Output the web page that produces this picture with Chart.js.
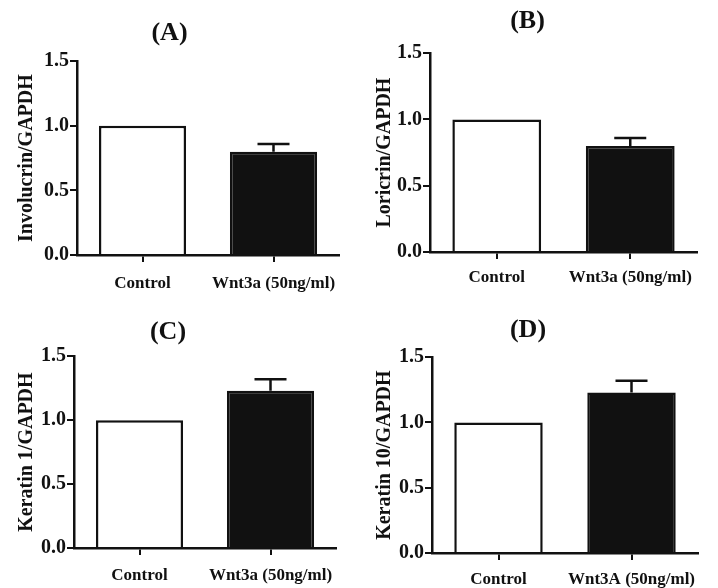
<!DOCTYPE html>
<html>
<head>
<meta charset="utf-8">
<script src="https://cdn.jsdelivr.net/npm/chart.js@4.4.1/dist/chart.umd.min.js"></script>
<style>
    html, body { margin: 0; padding: 0; background: #fff; }
    #wrap { position: relative; width: 718px; height: 588px; overflow: hidden; }
    .panel { position: absolute; }
</style>
</head>
<body>
<div id="wrap">
    <div class="panel" id="pA" style="left:0;top:0;width:359px;height:294px"><canvas id="cA"></canvas></div>
    <div class="panel" id="pB" style="left:358px;top:0;width:360px;height:294px"><canvas id="cB"></canvas></div>
    <div class="panel" id="pC" style="left:0;top:294px;width:359px;height:294px"><canvas id="cC"></canvas></div>
    <div class="panel" id="pD" style="left:358px;top:294px;width:360px;height:294px"><canvas id="cD"></canvas></div>
</div>
<script>
/* ── data ── */
const categoriesABC = ['Control', 'Wnt3a (50ng/ml)'];
const categoriesD = ['Control', 'Wnt3A (50ng/ml)'];
const panelTitles = ['(A)', '(B)', '(C)', '(D)'];
const yAxisTitles = ['Involucrin/GAPDH', 'Loricrin/GAPDH', 'Keratin 1/GAPDH', 'Keratin 10/GAPDH'];

const involucrinMeans = [1.0, 0.80];
const involucrinErrors = [0, 0.06];
const loricrinMeans = [1.0, 0.80];
const loricrinErrors = [0, 0.06];
const keratin1Means = [1.0, 1.23];
const keratin1Errors = [0, 0.09];
const keratin10Means = [1.0, 1.23];
const keratin10Errors = [0, 0.09];

const yMin = 0;
const yMax = 1.5;
const yStep = 0.5;

/* ── drawing ── */
const FONT = '"Liberation Serif", "Times New Roman", serif';
const INK = '#111111';

const errorBars = {
    id: 'errorBars',
    afterDatasetsDraw(chart) {
        const ds = chart.data.datasets[0];
        const meta = chart.getDatasetMeta(0);
        const y = chart.scales.y;
        const ctx = chart.ctx;
        ctx.save();
        ctx.strokeStyle = INK;
        ctx.lineWidth = 2.5;
        meta.data.forEach((bar, i) => {
            const err = ds.errors[i];
            if (!err) return;
            const yBase = y.getPixelForValue(ds.data[i]);
            const yTop = y.getPixelForValue(ds.data[i] + err);
            ctx.beginPath();
            ctx.moveTo(bar.x, yBase);
            ctx.lineTo(bar.x, yTop);
            ctx.moveTo(bar.x - 16, yTop);
            ctx.lineTo(bar.x + 16, yTop);
            ctx.stroke();
        });
        ctx.restore();
    }
};

function makePanel(id, cfg) {
    return new Chart(document.getElementById(id), {
        type: 'bar',
        data: {
            labels: cfg.labels,
            datasets: [{
                data: cfg.means,
                errors: cfg.errors,
                backgroundColor: ['#ffffff', INK],
                borderColor: INK,
                borderWidth: 2.5,
                barPercentage: 0.665,
                categoryPercentage: 1
            }]
        },
        options: {
            responsive: true,
            maintainAspectRatio: false,
            animation: false,
            layout: { padding: { left: 0, right: cfg.right, top: 0, bottom: 0 } },
            plugins: {
                legend: { display: false },
                tooltip: { enabled: false },
                title: {
                    display: true,
                    text: cfg.title,
                    color: INK,
                    font: { family: FONT, size: 26, weight: 'bold', lineHeight: 1.2 },
                    padding: { top: cfg.titleTop, bottom: cfg.titleBottom }
                }
            },
            scales: {
                x: {
                    afterFit: s => { s.height = cfg.xHeight; },
                    border: { display: true, color: INK, width: 2.5 },
                    grid: {
                        display: true, drawOnChartArea: false, drawTicks: true,
                        tickLength: 7, lineWidth: 2, color: INK, offset: false
                    },
                    ticks: {
                        color: INK, padding: cfg.xPad, maxRotation: 0,
                        font: { family: FONT, size: 17, weight: 'bold' }
                    }
                },
                y: {
                    min: yMin,
                    max: yMax,
                    afterFit: s => { s.width = cfg.axisLeft; },
                    border: { display: true, color: INK, width: 2.5 },
                    grid: {
                        display: true, drawOnChartArea: false, drawTicks: true,
                        tickLength: 7, lineWidth: 2, color: INK
                    },
                    ticks: {
                        stepSize: yStep, color: INK, padding: 1,
                        callback: v => Number(v).toFixed(1),
                        font: { family: FONT, size: 20, weight: 'bold' }
                    },
                    title: {
                        display: true,
                        text: cfg.yTitle,
                        color: INK,
                        padding: { top: 15, bottom: 0 },
                        font: { family: FONT, size: 20, weight: 'bold', lineHeight: 1.2 }
                    }
                }
            }
        },
        plugins: [errorBars]
    });
}

makePanel('cA', {
    labels: categoriesABC, means: involucrinMeans, errors: involucrinErrors,
    title: panelTitles[0], yTitle: yAxisTitles[0],
    axisLeft: 77, right: 20, titleTop: 18, titleBottom: 12, xHeight: 39, xPad: 11
});
makePanel('cB', {
    labels: categoriesABC, means: loricrinMeans, errors: loricrinErrors,
    title: panelTitles[1], yTitle: yAxisTitles[1],
    axisLeft: 72, right: 21, titleTop: 6, titleBottom: 16, xHeight: 42, xPad: 8
});
makePanel('cC', {
    labels: categoriesABC, means: keratin1Means, errors: keratin1Errors,
    title: panelTitles[2], yTitle: yAxisTitles[2],
    axisLeft: 74, right: 23, titleTop: 23, titleBottom: 8, xHeight: 40, xPad: 10
});
makePanel('cD', {
    labels: categoriesD, means: keratin10Means, errors: keratin10Errors,
    title: panelTitles[3], yTitle: yAxisTitles[3],
    axisLeft: 74, right: 20, titleTop: 21, titleBottom: 11, xHeight: 35, xPad: 9
});
</script>
</body>
</html>
